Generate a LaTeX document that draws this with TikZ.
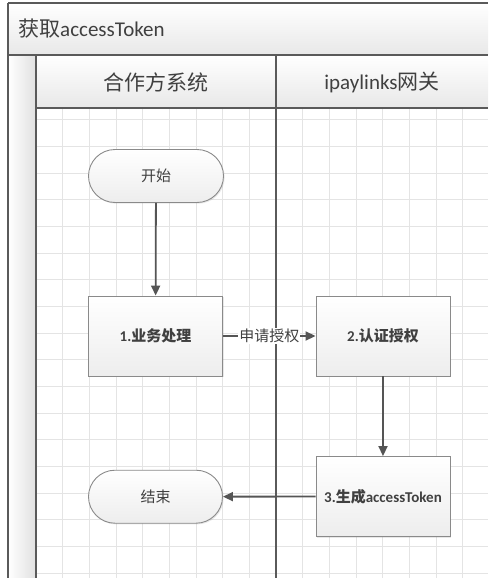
\documentclass[tikz,border=0pt]{standalone}
\usepackage{fontspec}
\setmainfont{Carlito}
\newfontfamily\cjk{Noto Sans CJK SC}
\usetikzlibrary{arrows.meta,shapes.misc,shadows}
\definecolor{txt}{HTML}{404040}
\definecolor{lane}{HTML}{5A5A5A}
\definecolor{bord}{HTML}{8A8A8A}
\definecolor{arr}{HTML}{555555}
\definecolor{gridc}{HTML}{E4E4E4}
\tikzset{
  gridline/.style={draw=gridc, line width=0.8pt},
  laneline/.style={draw=lane, line width=1.6pt},
  band/.style={top color=white, bottom color=black!9, draw=none},
  procbox/.style={rectangle, draw=bord, line width=0.9pt, top color=white, bottom color=black!7,
    minimum width=134pt, minimum height=80pt, inner sep=0pt, text=txt, font=\fontsize{15}{18}\selectfont\bfseries,
    drop shadow={opacity=0.18, shadow xshift=1.2pt, shadow yshift=-1.2pt}},
  termbox/.style={rounded rectangle, draw=bord, line width=0.9pt, top color=white, bottom color=black!7,
    minimum width=134pt, minimum height=53pt, inner sep=0pt, text=txt, font=\fontsize{15}{18}\selectfont,
    drop shadow={opacity=0.18, shadow xshift=1.2pt, shadow yshift=-1.2pt}},
  flow/.style={draw=arr, line width=1.8pt, -{Triangle[length=10pt,width=9pt]}},
  headtext/.style={text=txt, inner sep=0pt, font=\fontsize{21}{24}\selectfont},
}
\begin{document}
\begin{tikzpicture}[x=1pt,y=-1pt]
\useasboundingbox (0,0) rectangle (488,578);
\fill[white] (0,0) rectangle (488,578);
% grid
\foreach \i in {0,...,17} {\draw[gridline] ({36+26.667*\i},108) -- ({36+26.667*\i},578);}
\foreach \i in {0,...,17} {\draw[gridline] (36,{119.67+26.667*\i}) -- (488,{119.67+26.667*\i});}
% bands
\shade[band] (8,3) rectangle (488,55);
\shade[band] (36,55) rectangle (488,108);
\shade[left color=white, right color=black!12] (8,55) rectangle (36,578);
% lane lines
\draw[laneline] (8,3) -- (488,3);
\draw[laneline] (8,3) -- (8,578);
\draw[laneline] (8,55) -- (488,55);
\draw[laneline] (36,108) -- (488,108);
\draw[laneline] (36,55) -- (36,578);
\draw[laneline] (276,55) -- (276,578);
% texts
\node[headtext, anchor=west] (title) at (18,29) {{\cjk 获取}accessToken};
\node[headtext] (lane1) at (156,82) {\cjk 合作方系统};
\node[headtext] (lane2) at (382,82) {ipaylinks{\cjk 网关}};
% nodes
\node[termbox, minimum width=135pt] (start) at (156,176) {\cjk 开始};
\node[procbox] (b1) at (155.5,336) {1.{\cjk 业务处理}};
\node[procbox] (b2) at (383,336) {2.{\cjk 认证授权}};
\node[procbox] (b3) at (383,496.5) {3.{\cjk 生成}accessToken};
\node[termbox] (end) at (155.5,496.7) {\cjk 结束};
% connectors
\draw[flow] (start) -- (b1);
\draw[flow] (b1) -- node[fill=white, inner sep=1pt, text=txt, font=\fontsize{15}{18}\selectfont] (lbl) {\cjk 申请授权} (b2);
\draw[flow] (b2) -- (b3);
\draw[flow] (b3) -- (end);
\end{tikzpicture}
\end{document}
